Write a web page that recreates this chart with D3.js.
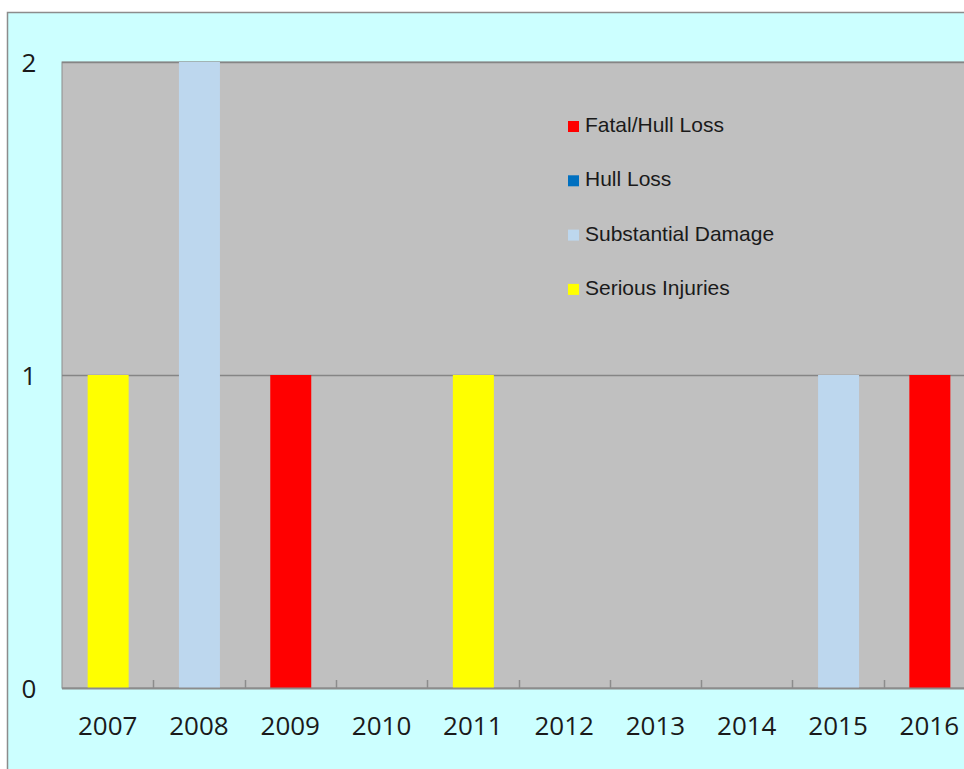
<!DOCTYPE html>
<html>
<head>
<meta charset="utf-8">
<script src="https://cdn.jsdelivr.net/npm/d3@7"></script>
<style>
  body { margin: 0; background: #fff; }
  svg { display: block; }
</style>
</head>
<body>
<svg id="chart" width="964" height="769"></svg>
<script>
// categories and series
var years = ["2007", "2008", "2009", "2010", "2011", "2012", "2013", "2014", "2015", "2016"];
var seriesNames = ["Fatal/Hull Loss", "Hull Loss", "Substantial Damage", "Serious Injuries"];
var fatalHullLoss     = [0, 0, 1, 0, 0, 0, 0, 0, 0, 1];
var hullLoss          = [0, 0, 0, 0, 0, 0, 0, 0, 0, 0];
var substantialDamage = [0, 2, 0, 0, 0, 0, 0, 0, 1, 0];
var seriousInjuries   = [1, 0, 0, 0, 1, 0, 0, 0, 0, 0];
var yTicks = [0, 1, 2];

var colors = ["#ff0000", "#0070c0", "#bdd7ee", "#ffff00"];

var svg = d3.select("#chart");

// outer chart area
svg.append("rect")
    .attr("x", 7.5).attr("y", 12.5)
    .attr("width", 1000).attr("height", 800)
    .attr("fill", "#ccffff")
    .attr("stroke", "#8c8c8c")
    .attr("stroke-width", 1.5);

var plotLeft = 62, plotTop = 62, plotBottom = 688;
var bandW = 91.3;

var xScale = d3.scaleBand()
    .domain(years)
    .range([plotLeft, plotLeft + bandW * years.length])
    .paddingInner(0).paddingOuter(0);

var yScale = d3.scaleLinear()
    .domain([0, 2])
    .range([plotBottom, plotTop]);

// plot area
svg.append("rect")
    .attr("x", plotLeft).attr("y", plotTop)
    .attr("width", bandW * years.length).attr("height", plotBottom - plotTop)
    .attr("fill", "#c0c0c0")
    .attr("stroke", "#8c8c8c")
    .attr("stroke-width", 1);

// gridlines
svg.append("g")
    .selectAll("line")
    .data(yTicks.filter(d => d > 0))
    .enter()
    .append("line")
    .attr("x1", plotLeft).attr("x2", plotLeft + bandW * years.length)
    .attr("y1", d => Math.round(yScale(d)) + 0.5)
    .attr("y2", d => Math.round(yScale(d)) + 0.5)
    .attr("stroke", "#858585")
    .attr("stroke-width", 1.5);

// stacked bars
var table = years.map((y, i) => ({
    year: y,
    "Fatal/Hull Loss": fatalHullLoss[i],
    "Hull Loss": hullLoss[i],
    "Substantial Damage": substantialDamage[i],
    "Serious Injuries": seriousInjuries[i]
}));
var stack = d3.stack().keys(seriesNames)(table);

var barW = 41;
svg.append("g")
    .selectAll("g")
    .data(stack)
    .enter()
    .append("g")
    .attr("fill", (d, i) => colors[i])
    .selectAll("rect")
    .data(d => d)
    .enter()
    .append("rect")
    .attr("x", d => xScale(d.data.year) + xScale.bandwidth() / 2 - barW / 2 + 0.5)
    .attr("y", d => yScale(d[1]))
    .attr("width", barW)
    .attr("height", d => yScale(d[0]) - yScale(d[1]));

// bottom axis line and ticks
svg.append("line")
    .attr("x1", plotLeft).attr("x2", plotLeft + bandW * years.length)
    .attr("y1", plotBottom + 0.5).attr("y2", plotBottom + 0.5)
    .attr("stroke", "#8c8c8c").attr("stroke-width", 2);

svg.append("g")
    .selectAll("line")
    .data(years.slice(1))
    .enter()
    .append("line")
    .attr("x1", d => Math.round(xScale(d)) + 0.5)
    .attr("x2", d => Math.round(xScale(d)) + 0.5)
    .attr("y1", plotBottom - 8).attr("y2", plotBottom)
    .attr("stroke", "#8c8c8c").attr("stroke-width", 1.5);

// x labels
svg.append("g")
    .selectAll("text")
    .data(years)
    .enter()
    .append("text")
    .attr("x", d => xScale(d) + xScale.bandwidth() / 2)
    .attr("y", 735)
    .attr("text-anchor", "middle")
    .attr("font-family", "'Open Sans', sans-serif")
    .attr("font-size", 26)
    .attr("fill", "#1a1a1a")
    .text(d => d);

// y labels
svg.append("g")
    .selectAll("text")
    .data(yTicks)
    .enter()
    .append("text")
    .attr("x", 29)
    .attr("y", d => yScale(d) + 9.5)
    .attr("text-anchor", "middle")
    .attr("font-family", "'Open Sans', sans-serif")
    .attr("font-size", 26)
    .attr("fill", "#1a1a1a")
    .text(d => d);

// legend
var legend = svg.append("g")
    .selectAll("g")
    .data(seriesNames)
    .enter()
    .append("g")
    .attr("transform", (d, i) => "translate(568," + (132 + i * 54.3) + ")");

legend.append("rect")
    .attr("x", 0).attr("y", -11)
    .attr("width", 11).attr("height", 11)
    .attr("fill", (d, i) => colors[i]);

legend.append("text")
    .attr("x", 17).attr("y", 0)
    .attr("font-family", "'Liberation Sans', Arial, sans-serif")
    .attr("font-size", 21)
    .attr("fill", "#1a1a1a")
    .text(d => d);
</script>
</body>
</html>
